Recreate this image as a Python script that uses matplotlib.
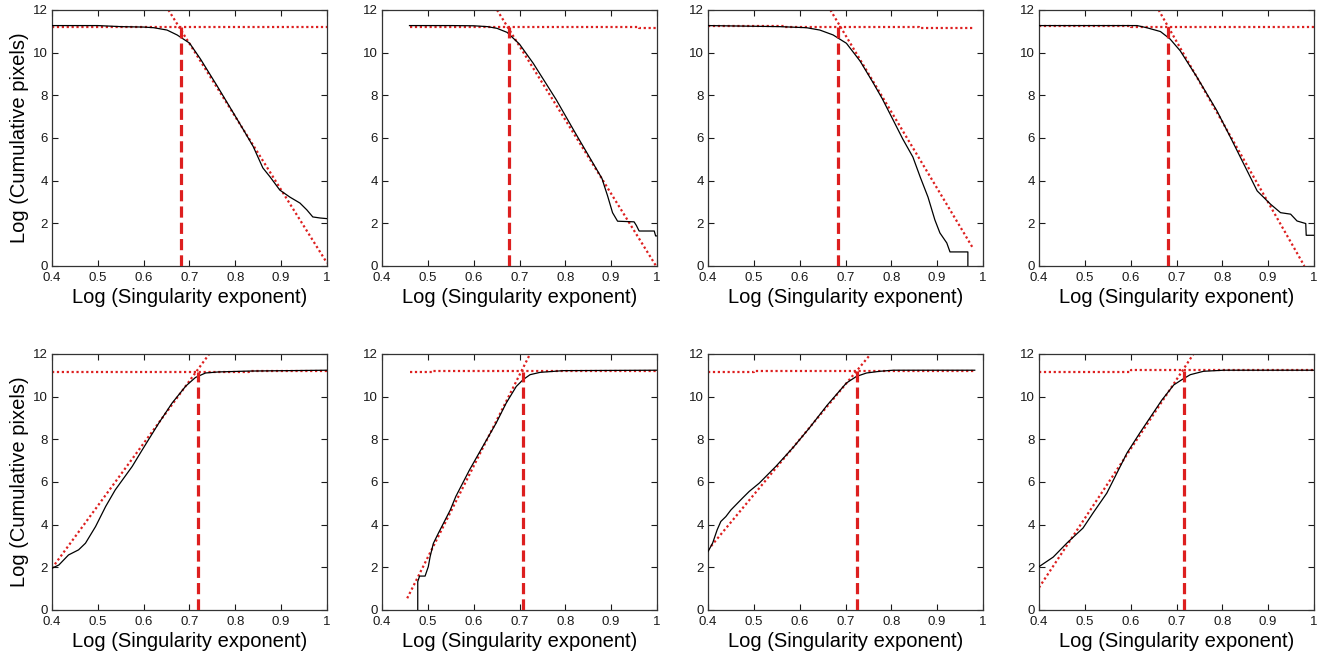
import matplotlib
matplotlib.use("Agg")
import matplotlib.pyplot as plt

plt.rcParams['font.family'] = ['Liberation Sans', 'DejaVu Sans']

# ---------------- data ----------------
curve_x = [
    [0.40, 0.50, 0.55, 0.60, 0.622, 0.651, 0.673, 0.70, 0.724, 0.76, 0.795, 0.82, 0.839, 0.86, 0.876, 0.897, 0.919, 0.941, 0.956, 0.969, 0.985, 1.0],
    [0.46, 0.55, 0.60, 0.63, 0.651, 0.673, 0.70, 0.73, 0.78, 0.82, 0.85, 0.88, 0.885, 0.892, 0.903, 0.914, 0.95, 0.955, 0.961, 0.994, 0.997, 1.0],
    [0.40, 0.557, 0.615, 0.644, 0.673, 0.702, 0.732, 0.76, 0.78, 0.804, 0.825, 0.847, 0.863, 0.88, 0.895, 0.906, 0.921, 0.928, 0.967, 0.967],
    [0.40, 0.614, 0.635, 0.665, 0.686, 0.708, 0.745, 0.788, 0.818, 0.847, 0.876, 0.905, 0.927, 0.949, 0.963, 0.982, 0.983, 1.0],
    [0.40, 0.415, 0.436, 0.458, 0.473, 0.495, 0.517, 0.538, 0.575, 0.597, 0.633, 0.662, 0.692, 0.713, 0.735, 0.764, 0.83, 1.0],
    [0.478, 0.478, 0.482, 0.494, 0.501, 0.505, 0.512, 0.523, 0.534, 0.549, 0.561, 0.591, 0.62, 0.649, 0.671, 0.693, 0.708, 0.723, 0.745, 0.796, 1.0],
    [0.40, 0.41, 0.42, 0.428, 0.439, 0.45, 0.475, 0.49, 0.512, 0.548, 0.585, 0.62, 0.66, 0.702, 0.724, 0.746, 0.775, 0.804, 0.982],
    [0.40, 0.431, 0.461, 0.496, 0.518, 0.548, 0.57, 0.592, 0.62, 0.668, 0.694, 0.712, 0.73, 0.759, 0.803, 1.0],
]
curve_y = [
    [11.27, 11.27, 11.22, 11.20, 11.17, 11.06, 10.83, 10.45, 9.7, 8.45, 7.2, 6.3, 5.6, 4.6, 4.17, 3.56, 3.23, 2.95, 2.63, 2.3, 2.25, 2.22],
    [11.27, 11.27, 11.26, 11.22, 11.14, 10.95, 10.4, 9.5, 7.8, 6.3, 5.2, 4.1, 3.76, 3.3, 2.5, 2.1, 2.07, 1.9, 1.64, 1.64, 1.41, 1.41],
    [11.27, 11.22, 11.17, 11.06, 10.83, 10.44, 9.6, 8.6, 7.85, 6.84, 5.95, 5.11, 4.17, 3.23, 2.16, 1.55, 1.08, 0.66, 0.66, 0.0],
    [11.27, 11.27, 11.17, 10.99, 10.64, 10.09, 8.84, 7.28, 6.02, 4.77, 3.52, 2.9, 2.5, 2.43, 2.11, 1.99, 1.44, 1.44],
    [1.96, 2.11, 2.58, 2.82, 3.13, 3.91, 4.85, 5.63, 6.73, 7.51, 8.76, 9.7, 10.5, 10.9, 11.11, 11.16, 11.2, 11.24],
    [0.0, 1.33, 1.59, 1.59, 2.03, 2.5, 3.12, 3.6, 4.06, 4.69, 5.32, 6.57, 7.67, 8.76, 9.7, 10.48, 10.8, 11.03, 11.14, 11.22, 11.24],
    [2.74, 3.13, 3.76, 4.15, 4.38, 4.69, 5.24, 5.56, 5.95, 6.73, 7.6, 8.5, 9.6, 10.64, 10.95, 11.11, 11.19, 11.24, 11.24],
    [2.03, 2.48, 3.14, 3.84, 4.55, 5.48, 6.42, 7.36, 8.3, 9.84, 10.55, 10.8, 11.03, 11.19, 11.24, 11.24],
]
# sloped fit lines (two end points each)
fit_x = [[0.654, 1.0], [0.651, 0.998], [0.667, 0.978], [0.661, 0.979],
         [0.40, 0.743], [0.455, 0.723], [0.40, 0.755], [0.40, 0.737]]
fit_y = [[12.0, 0.14], [12.0, 0.0], [12.0, 0.84], [12.0, 0.0],
         [1.96, 12.0], [0.55, 12.0], [2.82, 12.0], [1.05, 12.0]]
# plateau fit lines
plat_x = [[0.40, 0.55, 0.55, 1.0], [0.46, 0.96, 0.96, 1.0], [0.40, 0.565, 0.565, 0.86, 0.86, 0.98], [0.40, 0.60, 0.60, 1.0],
          [0.40, 0.83, 0.83, 1.0], [0.46, 0.51, 0.51, 1.0], [0.40, 0.50, 0.50, 0.982], [0.40, 0.60, 0.60, 1.0]]
plat_y = [[11.22, 11.22, 11.19, 11.19], [11.22, 11.22, 11.17, 11.17], [11.24, 11.24, 11.2, 11.2, 11.14, 11.14], [11.27, 11.27, 11.21, 11.21],
          [11.16, 11.16, 11.22, 11.22], [11.16, 11.16, 11.22, 11.22], [11.16, 11.16, 11.22, 11.22], [11.16, 11.16, 11.24, 11.24]]
# threshold (break point) positions
thresh_x = [0.681, 0.677, 0.683, 0.681, 0.719, 0.708, 0.724, 0.716]
thresh_y = [11.2, 11.2, 11.2, 11.22, 11.16, 11.16, 11.18, 11.18]

xticks = [0.4, 0.5, 0.6, 0.7, 0.8, 0.9, 1.0]
xtick_labels = ["0.4", "0.5", "0.6", "0.7", "0.8", "0.9", "1"]
yticks = [0, 2, 4, 6, 8, 10, 12]
xlabel = "Log (Singularity exponent)"
ylabel = "Log (Cumulative pixels)"

# ---------------- figure ----------------
W, H = 1322, 655
fig = plt.figure(figsize=(W / 100, H / 100), dpi=100)
col_left = [52, 382, 708, 1039]
row_top = [10, 354]
aw, ah = 275, 256
red = '#dd1f1f'

for i in range(8):
    r, c = divmod(i, 4)
    ax = fig.add_axes([col_left[c] / W, (H - row_top[r] - ah) / H, aw / W, ah / H])
    ax.plot(curve_x[i], curve_y[i], color='black', lw=0.9, zorder=3)
    ax.plot(fit_x[i], fit_y[i], color=red, lw=1.6, ls=(0, (1, 1.2)), zorder=2)
    ax.plot(plat_x[i], plat_y[i], color=red, lw=1.6, ls=(0, (1, 1.2)), zorder=2)
    ax.plot([thresh_x[i], thresh_x[i]], [0, thresh_y[i]], color=red, lw=2.3,
            ls=(0, (3.5, 1.6)), zorder=4)
    ax.set_xlim(0.4, 1.0)
    ax.set_ylim(0, 12)
    ax.set_xticks(xticks)
    ax.set_xticklabels(xtick_labels)
    ax.set_yticks(yticks)
    ax.tick_params(direction='in', top=True, right=True, length=4, width=0.8,
                   labelsize=9.5, colors='#1a1a1a')
    ax.tick_params(axis='x', pad=4)
    ax.tick_params(axis='y', pad=3)
    for s in ax.spines.values():
        s.set_linewidth(0.9)
        s.set_color('#333333')
    ax.set_xlabel(xlabel, fontsize=14.5, labelpad=3)
    if c == 0:
        ax.set_ylabel(ylabel, fontsize=14.5, labelpad=3)

fig.savefig("out.png", dpi=100)
